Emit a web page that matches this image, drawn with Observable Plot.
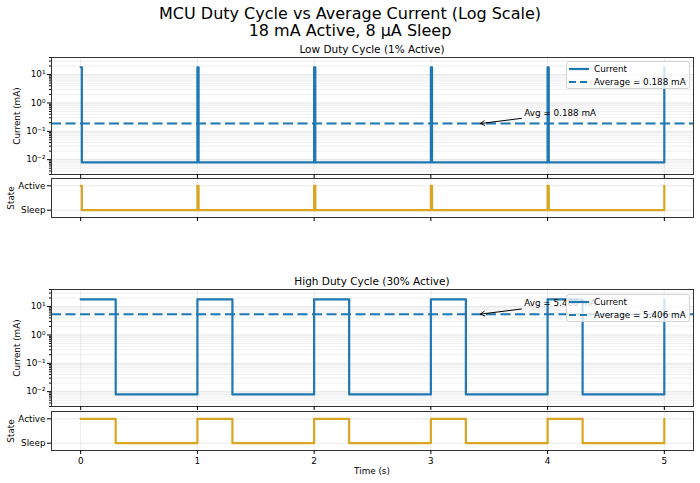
<!DOCTYPE html>
<html><head><meta charset="utf-8">
<script src="https://cdn.jsdelivr.net/npm/d3@7"></script>
<script src="https://cdn.jsdelivr.net/npm/@observablehq/plot@0.6"></script>
<style>
body{margin:0;background:#fff;}
#root{position:relative;width:700px;height:483px;font-family:"DejaVu Sans",sans-serif;color:#000;overflow:hidden;background:#fff}
.abs{position:absolute;white-space:nowrap;line-height:1;transform:translate(-50%,-50%)}
.rot{position:absolute;white-space:nowrap;line-height:1;transform:translate(-50%,-50%) rotate(-90deg)}
.plotbox{position:absolute;left:0}
.legend{position:absolute;background:rgba(255,255,255,0.8);border:1px solid #d3d3d3;border-radius:3px;font-size:8.8px;box-sizing:border-box}
.legend svg{position:absolute;left:2px}
.legend span{position:absolute;left:27px;white-space:nowrap;line-height:1;transform:translateY(-50%)}
</style></head><body><div id="root"></div>
<script>
// ---- data ----
const ACTIVE_MA = 18;
const SLEEP_MA = 0.008;
const lowTimes   = [0, 0.01, 1, 1.01, 2, 2.01, 3, 3.01, 4, 4.01, 5];
const lowStates  = [1, 0, 1, 0, 1, 0, 1, 0, 1, 0, 1];
const highTimes  = [0, 0.3, 1, 1.3, 2, 2.3, 3, 3.3, 4, 4.3, 5];
const highStates = [1, 0, 1, 0, 1, 0, 1, 0, 1, 0, 1];
const lowAvg = 0.188;
const highAvg = 5.406;
const xTicks = [0, 1, 2, 3, 4, 5];
const yMajorTicks = [0.01, 0.1, 1, 10];
const yMajorLabels = ["10⁻²", "10⁻¹", "10⁰", "10¹"];
const yMinorTicks = [0.003,0.004,0.005,0.006,0.007,0.008,0.009,
  0.02,0.03,0.04,0.05,0.06,0.07,0.08,0.09,
  0.2,0.3,0.4,0.5,0.6,0.7,0.8,0.9,
  2,3,4,5,6,7,8,9,20,30,40];
const stateTicks = [0, 1];
const stateLabels = ["Sleep", "Active"];

const BLUE = "#1f77b4";
const ORANGE = "#daa520";
const GRID = "#b0b0b0";
const FS = 8.8;
const root = document.getElementById("root");

const baseStyle = {background:"transparent", fontFamily:"DejaVu Sans, sans-serif", fontSize: FS + "px", overflow:"visible"};

function place(el, top) {
  const d = document.createElement("div");
  d.className = "plotbox";
  d.style.top = top + "px";
  d.appendChild(el);
  root.appendChild(d);
}

function currentPlot(times, states, avg, ann) {
  const data = times.map((t, i) => ({t, mA: states[i] ? ACTIVE_MA : SLEEP_MA}));
  const labelOf = new Map(yMajorTicks.map((v, i) => [v, yMajorLabels[i]]));
  return Plot.plot({
    width: 700, height: 5 + 117 + 8,
    marginTop: 5, marginBottom: 8, marginLeft: 51, marginRight: 7,
    style: baseStyle,
    x: {domain: [-0.25, 5.25]},
    y: {type: "log", domain: [0.003, 40]},
    marks: [
      Plot.gridY(yMinorTicks, {stroke: GRID, strokeOpacity: 0.25, strokeWidth: 0.8}),
      Plot.gridY(yMajorTicks, {stroke: GRID, strokeOpacity: 0.4, strokeWidth: 0.8}),
      Plot.gridX(xTicks, {stroke: GRID, strokeOpacity: 0.3, strokeWidth: 0.8}),
      Plot.line(data, {x: "t", y: "mA", curve: "step-after", stroke: BLUE, strokeWidth: 2.2}),
      Plot.ruleY([avg], {stroke: BLUE, strokeWidth: 2, strokeDasharray: "10,4.5"}),
      Plot.arrow([ann], {x1: "x1", y1: "y1", x2: "x2", y2: "y2", stroke: "black", strokeWidth: 1, headLength: 7}),
      Plot.text([ann], {x: "tx", y: "ty", text: "label", textAnchor: "start", fontSize: FS, fill: "black"}),
      Plot.frame({stroke: "#333", strokeWidth: 1}),
      Plot.axisY(yMajorTicks, {tickFormat: d => labelOf.get(d), tickSize: 4, tickPadding: 2, label: null, fontSize: FS}),
      Plot.axisY(yMinorTicks, {tickFormat: () => "", tickSize: 2, label: null}),
      Plot.axisX(xTicks, {tickFormat: () => "", tickSize: 4, label: null})
    ]
  });
}

function statePlot(times, states, withLabels) {
  const data = times.map((t, i) => ({t, s: states[i]}));
  const mb = withLabels ? 30 : 8;
  return Plot.plot({
    width: 700, height: 6 + 39 + mb,
    marginTop: 6, marginBottom: mb, marginLeft: 51, marginRight: 7,
    style: baseStyle,
    x: {domain: [-0.25, 5.25]},
    y: {domain: [-0.3, 1.3]},
    marks: [
      Plot.gridY(stateTicks, {stroke: GRID, strokeOpacity: 0.35, strokeWidth: 0.8}),
      Plot.gridX(xTicks, {stroke: GRID, strokeOpacity: 0.3, strokeWidth: 0.8}),
      Plot.line(data, {x: "t", y: "s", curve: "step-after", stroke: ORANGE, strokeWidth: 2.2}),
      Plot.frame({stroke: "#333", strokeWidth: 1}),
      Plot.axisY(stateTicks, {tickFormat: d => stateLabels[d], tickSize: 4, tickPadding: 2, label: null, fontSize: FS}),
      withLabels
        ? Plot.axisX(xTicks, {tickFormat: d => String(d), tickSize: 4, tickPadding: 3, label: null, fontSize: FS})
        : Plot.axisX(xTicks, {tickFormat: () => "", tickSize: 4, label: null})
    ]
  });
}

function text(str, x, y, size, cls) {
  const d = document.createElement("div");
  d.className = cls || "abs";
  d.style.left = x + "px";
  d.style.top = y + "px";
  d.style.fontSize = size + "px";
  d.textContent = str;
  root.appendChild(d);
}

function legend(left, top, avg) {
  const L = document.createElement("div");
  L.className = "legend";
  L.style.left = left + "px"; L.style.top = top + "px";
  L.style.width = "124px"; L.style.height = "28px";
  const rows = [
    {label: "Current", dash: null, y: 8},
    {label: "Average = " + avg.toFixed(3) + " mA", dash: "7,4", y: 20.5}
  ];
  for (const r of rows) {
    const svgNS = "http://www.w3.org/2000/svg";
    const s = document.createElementNS(svgNS, "svg");
    s.setAttribute("width", 22); s.setAttribute("height", 6);
    s.style.top = (r.y - 3 - 1) + "px";
    const ln = document.createElementNS(svgNS, "line");
    ln.setAttribute("x1", 0); ln.setAttribute("x2", 20);
    ln.setAttribute("y1", 3); ln.setAttribute("y2", 3);
    ln.setAttribute("stroke", BLUE); ln.setAttribute("stroke-width", 2.2);
    if (r.dash) ln.setAttribute("stroke-dasharray", r.dash);
    s.appendChild(ln);
    L.appendChild(s);
    const sp = document.createElement("span");
    sp.textContent = r.label;
    sp.style.top = (r.y - 1) + "px";
    L.appendChild(sp);
  }
  root.appendChild(L);
}

// titles
text("MCU Duty Cycle vs Average Current (Log Scale)", 350, 14, 16);
text("18 mA Active, 8 µA Sleep", 350, 31.3, 16);
text("Low Duty Cycle (1% Active)", 372, 48.9, 10.5);
text("High Duty Cycle (30% Active)", 372, 281.4, 10.5);

const lowAnn = {x1: 3.776, y1: lowAvg * 1.52, x2: 3.425, y2: lowAvg, tx: 3.8, ty: lowAvg * 2.4, label: "Avg = " + lowAvg.toFixed(3) + " mA"};
const highAnn = {x1: 3.776, y1: highAvg * 1.52, x2: 3.425, y2: highAvg, tx: 3.8, ty: highAvg * 2.45, label: "Avg = " + highAvg.toFixed(3) + " mA"};

place(currentPlot(lowTimes, lowStates, lowAvg, lowAnn), 52);
place(statePlot(lowTimes, lowStates, false), 172);
place(currentPlot(highTimes, highStates, highAvg, highAnn), 284);
place(statePlot(highTimes, highStates, true), 405);

// axis labels
text("Current (mA)", 16.5, 115.5, FS, "rot");
text("State", 11, 198, FS, "rot");
text("Current (mA)", 16.5, 348, FS, "rot");
text("State", 11, 430.5, FS, "rot");
text("Time (s)", 372, 471, FS);

legend(566, 61, lowAvg);
legend(566, 294, highAvg);
</script></body></html>
